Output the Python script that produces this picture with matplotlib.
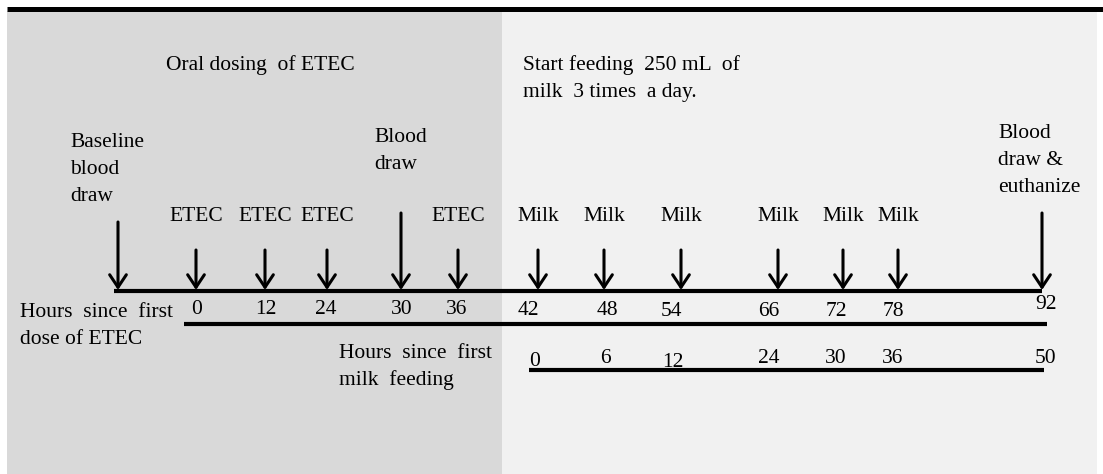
import matplotlib
matplotlib.use("Agg")
import matplotlib.pyplot as plt
from matplotlib.patches import Rectangle

# event labels along the timeline (left to right)
event_labels = ["Baseline\nblood\ndraw", "ETEC", "ETEC", "ETEC", "Blood\ndraw", "ETEC",
                "Milk", "Milk", "Milk", "Milk", "Milk", "Milk", "Blood\ndraw &\neuthanize"]
long_arrow = [True, False, False, False, True, False,
              False, False, False, False, False, False, True]
# hours since first ETEC dose (one per event after the baseline draw)
etec_hours = ["0", "12", "24", "30", "36", "42", "48", "54", "66", "72", "78", "92"]
# hours since first milk feeding (from the 42 h slot on)
milk_hours = ["0", "6", "12", "24", "30", "36", "50"]

# layout: horizontal slot of each event (pixels, schematic not to scale)
slot_x = [118, 196, 265, 327, 401, 458, 538, 604, 681, 778, 843, 898, 1042]
# the hand-placed numbers sit a little off their arrows
etec_dx = [1, 1, -1, 1, -1, -10, 3, -10, -9, -7, -5, 4]
etec_base = [314, 314, 314, 314, 314, 315, 315, 316, 316, 316, 316, 309]
milk_dx = [-3, 1, -8, -9, -7, -5, 3]
milk_base = [366, 363, 367, 363, 363, 363, 363]

W, H = 1103, 474
fig = plt.figure(figsize=(W / 100, H / 100), dpi=100)
ax = fig.add_axes([0, 0, 1, 1])
ax.set_xlim(0, W)
ax.set_ylim(H, 0)
ax.axis("off")

serif = "Liberation Serif"
fs = 15.5
LS = 27  # line step in pixels


def lines(x, y0, s, ha="left"):
    # draw multi-line text one line at a time, y0 = baseline of first line
    for i, part in enumerate(s.split("\n")):
        ax.text(x, y0 + i * LS, part, family=serif, fontsize=fs, ha=ha, va="baseline")


# background panels
ax.add_patch(Rectangle((7, 11), 495, H - 11, color="#d9d9d9", lw=0))
ax.add_patch(Rectangle((502, 11), 595, H - 11, color="#f1f1f1", lw=0))
ax.plot([7, W], [8.5, 8.5], color="black", lw=3.6, solid_capstyle="butt")

# section headers
lines(166, 70, "Oral dosing  of ETEC")
lines(523, 70, "Start feeding  250 mL  of\nmilk  3 times  a day.")

# main timeline
axis_y = 291
ax.plot([slot_x[0] - 4, slot_x[-1]], [axis_y, axis_y], color="black", lw=3,
        solid_capstyle="butt")

long_tops = {0: 222, 4: 213, 12: 213}
long_text = {0: (70, 147), 4: (374, 142), 12: (998, 138)}
for i, (x, lab, is_long) in enumerate(zip(slot_x, event_labels, long_arrow)):
    top = long_tops[i] if is_long else 250
    ax.annotate("", xy=(x, axis_y - 1), xytext=(x, top),
                arrowprops=dict(arrowstyle="->,head_length=0.9,head_width=0.6",
                                color="black", lw=2.2, shrinkA=0, shrinkB=0))
    if is_long:
        lines(*long_text[i], lab)
    else:
        lines(x, 221, lab, ha="center")

# hour ticks: since first ETEC dose
for x, dx, yb, h in zip(slot_x[1:], etec_dx, etec_base, etec_hours):
    ax.text(x + dx, yb, h, family=serif, fontsize=fs, ha="center", va="baseline")
ax.plot([184, 1047], [324, 324], color="black", lw=3, solid_capstyle="butt")
lines(20, 317, "Hours  since  first\ndose of ETEC")

# hour ticks: since first milk feeding
for x, dx, yb, h in zip(slot_x[6:], milk_dx, milk_base, milk_hours):
    ax.text(x + dx, yb, h, family=serif, fontsize=fs, ha="center", va="baseline")
ax.plot([529, 1044], [370, 370], color="black", lw=3, solid_capstyle="butt")
lines(339, 358, "Hours  since  first\nmilk  feeding")

fig.savefig("out.png", dpi=100, facecolor="white")
